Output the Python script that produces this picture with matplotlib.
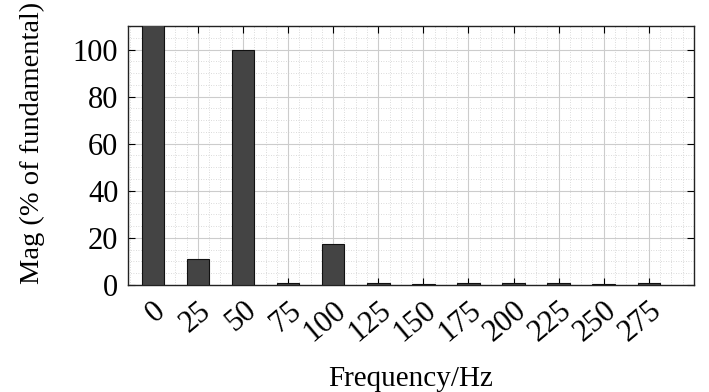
import matplotlib
matplotlib.use("Agg")
import matplotlib.pyplot as plt
from matplotlib.ticker import AutoMinorLocator, MultipleLocator

freqs = ["0", "25", "50", "75", "100", "125", "150", "175", "200", "225", "250", "275"]
mags = [115, 10.9, 100, 0.9, 17.6, 0.9, 0.3, 0.9, 0.7, 1.0, 0.3, 0.9]

plt.rcParams['font.family'] = ['Liberation Serif', 'DejaVu Serif']

fig = plt.figure(figsize=(7.09, 3.92), dpi=100)
ax = fig.add_axes([0.1805, 0.273, 0.7983, 0.6607])

x = list(range(len(freqs)))
ax.bar(x, mags, width=0.5, color="#444444", edgecolor="#111111", linewidth=0.8, zorder=3)

ax.set_xlim(-0.55, 12.0)
ax.set_ylim(0, 110)
ax.set_xticks(x)
ax.set_xticklabels(freqs, rotation=40, ha="right", rotation_mode="anchor", fontsize=22)
ax.yaxis.set_major_locator(MultipleLocator(20))
ax.yaxis.set_minor_locator(MultipleLocator(5))
ax.xaxis.set_minor_locator(AutoMinorLocator(4))
ax.tick_params(axis="y", labelsize=22, pad=7)
ax.tick_params(axis="x", pad=8)
ax.tick_params(which="both", direction="in", top=True, right=True)
ax.tick_params(which="major", length=5, width=0.8)
ax.tick_params(which="minor", length=0)

ax.grid(which="major", color="#cccccc", linewidth=0.8, linestyle="-", zorder=0)
ax.grid(which="minor", color="#cfcfcf", linewidth=0.6, linestyle=(0, (1, 2)), zorder=0)
ax.set_axisbelow(True)

for s in ax.spines.values():
    s.set_linewidth(1.0)
    s.set_color("#222222")

ax.set_ylabel("Mag (% of fundamental)", fontsize=20.5)
ax.yaxis.set_label_coords(-0.147, 0.548)
ax.set_xlabel("Frequency/Hz", fontsize=21, labelpad=13)

fig.savefig("out.png", dpi=100)
